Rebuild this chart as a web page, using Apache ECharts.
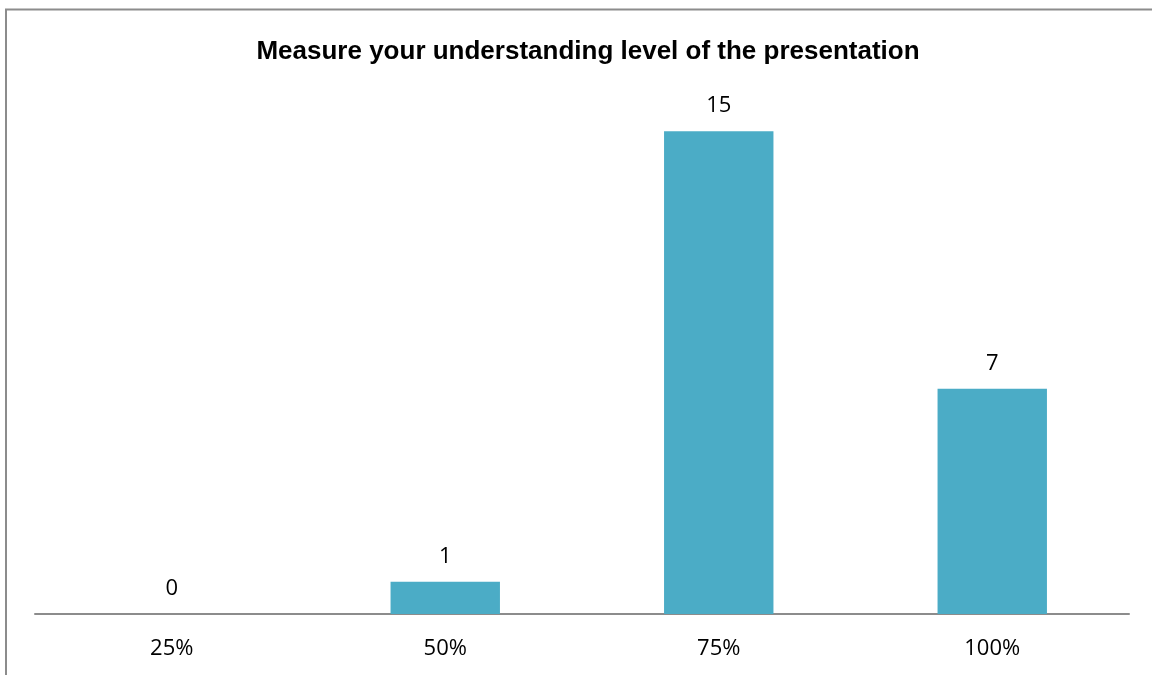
<!DOCTYPE html>
<html>
<head>
<meta charset="utf-8">
<script src="https://cdn.jsdelivr.net/npm/echarts@6/dist/echarts.min.js"></script>
<style>html,body{margin:0;padding:0;background:#fff}#c{width:1152px;height:675px}</style>
</head>
<body>
<div id="c"></div>
<script>
const categories = ['25%', '50%', '75%', '100%'];
const values = [0, 1, 15, 7];
const titleText = 'Measure your understanding level of the presentation';

const chart = echarts.init(document.getElementById('c'), null, {renderer: 'canvas'});
chart.setOption({
  animation: false,
  backgroundColor: '#ffffff',
  title: {
    text: titleText,
    left: 583, top: 34, textAlign: 'center',
    textStyle: {fontFamily: 'Liberation Sans', fontWeight: 'bold', fontSize: 26, color: '#000'}
  },
  graphic: [
    {type: 'line', shape: {x1: 6, y1: 9, x2: 6, y2: 675}, style: {stroke: '#8c8c8c', lineWidth: 2}},
    {type: 'line', shape: {x1: 5, y1: 9.5, x2: 1152, y2: 9.5}, style: {stroke: '#8c8c8c', lineWidth: 2}}
  ],
  grid: {left: 35, right: 23, top: 99, bottom: 61, containLabel: false},
  xAxis: {
    type: 'category', data: categories,
    axisLine: {lineStyle: {color: '#8c8c8c', width: 2}},
    axisTick: {show: false},
    axisLabel: {margin: 24, fontFamily: 'Open Sans', fontSize: 22, color: '#000'}
  },
  yAxis: {
    type: 'value', min: 0, max: 16,
    show: false, splitLine: {show: false}
  },
  series: [{
    type: 'bar', data: values, barWidth: '40%',
    itemStyle: {color: '#4bacc6'},
    label: {show: true, position: 'top', distance: 14, fontFamily: 'Open Sans', fontSize: 22, color: '#000'}
  }]
});
</script>
</body>
</html>
